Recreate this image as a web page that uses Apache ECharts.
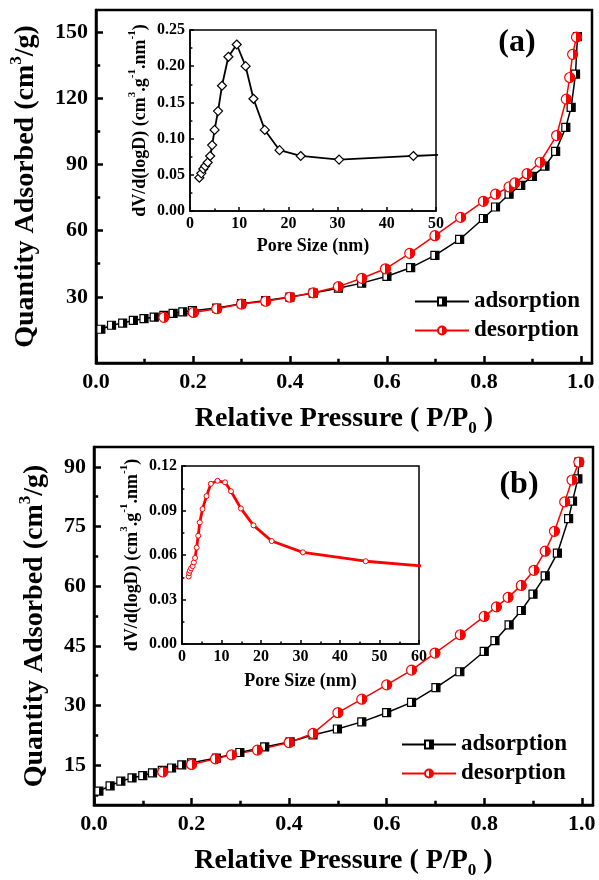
<!DOCTYPE html>
<html>
<head>
<meta charset="utf-8">
<script src="https://cdn.jsdelivr.net/npm/echarts@6.0.0/dist/echarts.min.js"></script>
<style>
    html, body { margin: 0; padding: 0; background: #fff; }
    #main { width: 599px; height: 880px; }
</style>
</head>
<body>
<div id="main"></div>
<script>
    // ---- panel (a) isotherm ----
    var adsAP = [0.010, 0.032, 0.055, 0.077, 0.099, 0.120, 0.140, 0.159, 0.179, 0.199, 0.249, 0.300, 0.350, 0.400, 0.448, 0.500, 0.548, 0.600, 0.649, 0.699, 0.750, 0.799, 0.824, 0.852, 0.876, 0.900, 0.926, 0.948, 0.969, 0.980, 0.989, 0.993];
    var adsAQ = [15.3, 17.1, 18.1, 19.3, 20.1, 20.8, 21.6, 22.5, 23.2, 23.7, 24.9, 26.9, 28.3, 29.9, 31.7, 33.9, 36.2, 39.3, 43.2, 48.8, 56.0, 65.5, 70.7, 76.5, 80.5, 84.6, 89.2, 95.9, 106.8, 115.9, 130.9, 147.9];
    var desAP = [0.140, 0.201, 0.249, 0.300, 0.350, 0.400, 0.448, 0.500, 0.548, 0.597, 0.647, 0.699, 0.752, 0.799, 0.824, 0.852, 0.864, 0.889, 0.916, 0.950, 0.970, 0.977, 0.983, 0.991];
    var desAQ = [20.7, 22.9, 24.6, 26.7, 28.0, 29.8, 31.8, 34.6, 38.4, 42.7, 49.7, 57.7, 66.0, 73.3, 76.5, 79.8, 81.6, 85.8, 91.0, 103.1, 119.6, 129.4, 139.9, 147.7];
    // ---- panel (a) inset: pore size distribution ----
    var poreA = [1.9, 2.3, 2.7, 3.1, 3.6, 4.1, 4.5, 5.0, 5.7, 6.5, 7.8, 9.5, 11.3, 12.9, 15.2, 18.2, 22.5, 30.3, 45.4, 55];
    var dvA = [0.046, 0.052, 0.058, 0.062, 0.067, 0.076, 0.091, 0.112, 0.138, 0.173, 0.213, 0.230, 0.200, 0.155, 0.112, 0.084, 0.076, 0.071, 0.076, 0.079];

    // ---- panel (b) isotherm ----
    var adsBP = [0.010, 0.033, 0.055, 0.078, 0.100, 0.120, 0.140, 0.159, 0.180, 0.200, 0.251, 0.299, 0.350, 0.402, 0.449, 0.499, 0.549, 0.600, 0.651, 0.701, 0.750, 0.800, 0.822, 0.851, 0.876, 0.900, 0.925, 0.950, 0.973, 0.981, 0.992, 0.994];
    var adsBQ = [8.5, 9.8, 11.0, 11.8, 12.4, 13.1, 13.7, 14.3, 15.1, 15.6, 16.8, 18.2, 19.6, 20.9, 22.6, 24.1, 25.9, 28.2, 30.8, 34.5, 38.5, 43.6, 46.3, 50.3, 53.9, 58.0, 62.6, 68.3, 77.0, 81.4, 87.0, 91.2];
    var desBP = [0.141, 0.200, 0.249, 0.282, 0.335, 0.400, 0.449, 0.500, 0.549, 0.600, 0.651, 0.699, 0.751, 0.800, 0.825, 0.849, 0.876, 0.902, 0.925, 0.944, 0.965, 0.980, 0.994];
    var desBQ = [13.3, 15.2, 16.6, 17.6, 18.8, 20.7, 23.0, 28.2, 31.6, 35.2, 38.9, 43.2, 47.8, 52.4, 54.8, 57.2, 60.2, 64.0, 68.8, 73.8, 81.2, 86.7, 91.2];
    // ---- panel (b) inset ----
    var poreB = [1.7, 1.8, 2.0, 2.3, 2.7, 3.0, 3.3, 3.7, 4.1, 4.5, 5.2, 6.2, 7.3, 9.0, 10.9, 12.4, 14.9, 18.1, 22.7, 30.6, 46.5, 62];
    var dvB = [0.0455, 0.0478, 0.0494, 0.051, 0.0525, 0.055, 0.058, 0.065, 0.073, 0.082, 0.091, 0.0997, 0.108, 0.110, 0.109, 0.103, 0.0914, 0.080, 0.0694, 0.0618, 0.0558, 0.0523];

    // ---- ticks / labels ----
    var pressureLabels = [0, 0.2, 0.4, 0.6, 0.8, 1.0];
    var pressureMinor = [0.1, 0.3, 0.5, 0.7, 0.9];
    var qtyALabels = [30, 60, 90, 120, 150];
    var qtyAMinor = [15, 45, 75, 105, 135];
    var qtyBLabels = [15, 30, 45, 60, 75, 90];
    var qtyBMinor = [7.5, 22.5, 37.5, 52.5, 67.5, 82.5];
    var poreALabels = [0, 10, 20, 30, 40, 50];
    var poreAMinor = [5, 15, 25, 35, 45];
    var dvALabels = [0, 0.05, 0.10, 0.15, 0.20, 0.25];
    var dvAMinor = [0.025, 0.075, 0.125, 0.175, 0.225];
    var poreBLabels = [0, 10, 20, 30, 40, 50, 60];
    var poreBMinor = [5, 15, 25, 35, 45, 55];
    var dvBLabels = [0, 0.03, 0.06, 0.09, 0.12];
    var dvBMinor = [0.015, 0.045, 0.075, 0.105];

    var FONT = '"Liberation Serif", "Times New Roman", serif';

    function zip(a, b) {
        return a.map(function (v, i) { return [v, b[i]]; });
    }

    // half white (left) / half colour (right) fill for the markers
    function halfFill(c) {
        return new echarts.graphic.LinearGradient(0, 0, 1, 0, [
            {offset: 0, color: '#fff'}, {offset: 0.5, color: '#fff'},
            {offset: 0.5, color: c}, {offset: 1, color: c}
        ]);
    }

    function nameStyle(size) {
        var small = Math.round(size * 0.62);
        return {
            color: '#000', fontFamily: FONT, fontWeight: 'bold', fontSize: size, lineHeight: size + 8,
            rich: {
                sup: {color: '#000', fontFamily: FONT, fontWeight: 'bold', fontSize: small, lineHeight: small, verticalAlign: 'top'},
                sub: {color: '#000', fontFamily: FONT, fontWeight: 'bold', fontSize: small, lineHeight: small, verticalAlign: 'bottom'}
            }
        };
    }

    // main axis (line, labels, major ticks) + a second one only for the short minor ticks
    function axisPair(dim, grid, min, max, labels, minors, fmt, o) {
        var pos = dim === 'x' ? 'bottom' : 'left';
        var main = {
            type: 'value', gridIndex: grid, position: pos, min: min, max: max,
            axisLine: {show: true, onZero: false, lineStyle: {color: '#000', width: o.lw}},
            axisTick: {show: true, inside: true, length: o.tick, customValues: labels, lineStyle: {color: '#000', width: o.lw}},
            axisLabel: {customValues: labels, formatter: fmt, color: '#000', fontFamily: FONT, fontWeight: 'bold', fontSize: o.size, margin: o.margin},
            splitLine: {show: false},
            name: o.name, nameLocation: 'middle', nameGap: o.nameGap, nameTextStyle: nameStyle(o.nameSize)
        };
        var minor = {
            type: 'value', gridIndex: grid, position: pos, min: min, max: max,
            axisLine: {show: false},
            axisTick: {show: true, inside: true, length: o.tick * 0.6, customValues: minors, lineStyle: {color: '#000', width: o.lw}},
            axisLabel: {show: false},
            splitLine: {show: false}
        };
        return [main, minor];
    }

    var mainOpt = {lw: 2.5, tick: 7, size: 22, margin: 8, nameSize: 28};
    var insetOpt = {lw: 1.5, tick: 4, size: 16, margin: 5, nameSize: 18};
    function ext(base, more) { return Object.assign({}, base, more); }

    var xAxes = [].concat(
        axisPair('x', 0, 0, 1.023, pressureLabels, pressureMinor, function (v) { return v.toFixed(1); },
            ext(mainOpt, {name: 'Relative Pressure ( P/P{sub|0} )', nameGap: 38})),
        axisPair('x', 1, 0, 50, poreALabels, poreAMinor, null,
            ext(insetOpt, {name: 'Pore Size (nm)', nameGap: 22})),
        axisPair('x', 2, 0, 1.023, pressureLabels, pressureMinor, function (v) { return v.toFixed(1); },
            ext(mainOpt, {name: 'Relative Pressure ( P/P{sub|0} )', nameGap: 38})),
        axisPair('x', 3, 0, 60, poreBLabels, poreBMinor, null,
            ext(insetOpt, {name: 'Pore Size (nm)', nameGap: 24}))
    );
    var yAxes = [].concat(
        axisPair('y', 0, 0, 160, qtyALabels, qtyAMinor, null,
            ext(mainOpt, {name: 'Quantity Adsorbed (cm{sup|3}/g)', nameGap: 42})),
        axisPair('y', 1, 0, 0.25, dvALabels, dvAMinor, function (v) { return v.toFixed(2); },
            ext(insetOpt, {name: 'dV/d(logD) (cm{sup|3}.g{sup|-1}.nm{sup|-1})', nameGap: 37})),
        axisPair('y', 2, 5, 95, qtyBLabels, qtyBMinor, null,
            ext(mainOpt, {name: 'Quantity Adsorbed (cm{sup|3}/g)', nameGap: 40})),
        axisPair('y', 3, 0, 0.12, dvBLabels, dvBMinor, function (v) { return v.toFixed(2); },
            ext(insetOpt, {name: 'dV/d(logD) (cm{sup|3}.g{sup|-1}.nm{sup|-1})', nameGap: 32}))
    );

    function isoSeries(name, data, grid, color, symbol, size) {
        return {
            name: name, type: 'line', xAxisIndex: grid * 2, yAxisIndex: grid * 2, data: data,
            symbol: symbol, symbolSize: size, showAllSymbol: true,
            lineStyle: {color: color, width: 1.5},
            itemStyle: {color: halfFill(color), borderColor: color, borderWidth: 1.2},
            emphasis: {disabled: true}
        };
    }

    function legendAt(left, top) {
        return {
            left: left, top: top, orient: 'vertical', itemWidth: 54, itemHeight: 10, itemGap: 6,
            data: ['adsorption', 'desorption'],
            textStyle: {color: '#000', fontFamily: FONT, fontWeight: 'bold', fontSize: 23, padding: [0, 0, 0, 0]}
        };
    }

    var option = {
        animation: false,
        backgroundColor: '#fff',
        grid: [
            {left: 96, top: 10, width: 496, height: 353, show: true, borderColor: '#000', borderWidth: 2.5},
            {left: 190, top: 30, width: 246, height: 181, show: true, borderColor: '#000', borderWidth: 1.5, backgroundColor: '#fff'},
            {left: 94, top: 447, width: 499, height: 358, show: true, borderColor: '#000', borderWidth: 2.5},
            {left: 182, top: 466, width: 237, height: 178, show: true, borderColor: '#000', borderWidth: 1.5, backgroundColor: '#fff'}
        ],
        xAxis: xAxes,
        yAxis: yAxes,
        legend: [legendAt(409, 285), legendAt(396, 728)],
        graphic: [
            {type: 'text', x: 517, y: 43, style: {text: '(a)', fill: '#000', font: 'bold 32px ' + FONT, align: 'center', verticalAlign: 'middle'}},
            {type: 'text', x: 519, y: 485, style: {text: '(b)', fill: '#000', font: 'bold 32px ' + FONT, align: 'center', verticalAlign: 'middle'}}
        ],
        series: [
            isoSeries('adsorption', zip(adsAP, adsAQ), 0, '#000', 'rect', 8),
            isoSeries('desorption', zip(desAP, desAQ), 0, '#ff0000', 'circle', 10),
            {
                name: 'psdA', type: 'line', xAxisIndex: 2, yAxisIndex: 2, data: zip(poreA, dvA),
                symbol: 'diamond', symbolSize: 9, showAllSymbol: true, clip: true,
                lineStyle: {color: '#000', width: 1.8},
                itemStyle: {color: '#fff', borderColor: '#000', borderWidth: 1.2}
            },
            isoSeries('adsorption', zip(adsBP, adsBQ), 2, '#000', 'rect', 8),
            isoSeries('desorption', zip(desBP, desBQ), 2, '#ff0000', 'circle', 10),
            {
                name: 'psdB', type: 'line', xAxisIndex: 6, yAxisIndex: 6, data: zip(poreB, dvB),
                symbol: 'circle', symbolSize: 5, showAllSymbol: true, clip: true,
                lineStyle: {color: '#ff0000', width: 2.8},
                itemStyle: {color: '#fff', borderColor: '#ff0000', borderWidth: 1}
            }
        ]
    };

    var myChart = echarts.init(document.getElementById('main'));
    myChart.setOption(option);
</script>
</body>
</html>
